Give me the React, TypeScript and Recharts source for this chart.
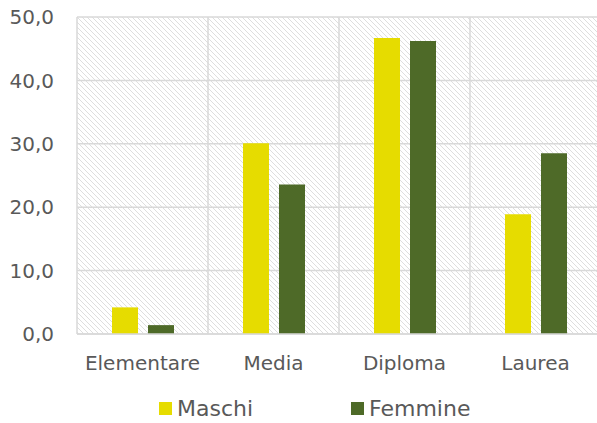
import { BarChart, Bar, XAxis, YAxis, CartesianGrid, Legend } from "recharts";

const categories = ["Elementare", "Media", "Diploma", "Laurea"];
const seriesNames = ["Maschi", "Femmine"];
const maschi = [4.2, 30.1, 46.7, 18.9];
const femmine = [1.4, 23.6, 46.2, 28.5];
const yTicks = [0, 10, 20, 30, 40, 50];

const data = categories.map((c, i) => ({ name: c, Maschi: maschi[i], Femmine: femmine[i] }));

const FONT = "'DejaVu Sans', sans-serif";
const TEXT = "#595959";
const GRID = "#d9d9d9";

function LegendBox({ payload }: any) {
  const items = [...(payload || [])].sort(
    (a: any, b: any) => seriesNames.indexOf(a.value) - seriesNames.indexOf(b.value)
  );
  return (
    <div style={{ display: "flex", paddingLeft: 159, height: 30, alignItems: "center", fontFamily: FONT }}>
      {items.map((p: any) => (
        <div key={p.value} style={{ width: 192, display: "flex", alignItems: "center" }}>
          <span style={{ width: 13, height: 13, background: p.color, marginRight: 5, display: "inline-block" }} />
          <span style={{ fontSize: 22, color: TEXT }}>{p.value}</span>
        </div>
      ))}
    </div>
  );
}

export default function App() {
  return (
    <div style={{ position: "fixed", top: 0, left: 0, width: 597, height: 423, overflow: "hidden", background: "#fff" }}>
      <svg width="0" height="0" style={{ position: "absolute" }}>
        <defs>
          <pattern id="hatch" patternUnits="userSpaceOnUse" width="5" height="5">
            <rect width="5" height="5" fill="#ffffff" />
            <path d="M-1,-1 L6,6 M-1,4 L1,6 M4,-1 L6,1" stroke="#dedede" strokeWidth="1" />
          </pattern>
        </defs>
      </svg>
      <BarChart
        width={610}
        height={423}
        data={data}
        margin={{ top: 17, right: 9, bottom: 0, left: 0 }}
        barSize={26}
        barGap={10}
      >
        <CartesianGrid
          fill="url(#hatch)"
          stroke={GRID}
          strokeWidth={1.5}
          verticalCoordinatesGenerator={({ offset }: any) =>
            [0, 1, 2, 3, 4].map((i) => offset.left + (i * offset.width) / 4)
          }
        />
        <XAxis
          dataKey="name"
          height={59}
          tickLine={false}
          tickSize={0}
          tickMargin={22}
          axisLine={{ stroke: GRID, strokeWidth: 1.5 }}
          tick={{ fill: TEXT, fontSize: 20, fontFamily: FONT }}
        />
        <YAxis
          width={77}
          domain={[0, 50]}
          ticks={yTicks}
          axisLine={false}
          tickLine={false}
          tickSize={0}
          tickMargin={23}
          tickFormatter={(v: number) => v.toFixed(1).replace(".", ",")}
          tick={{ fill: TEXT, fontSize: 20, fontFamily: FONT }}
        />
        <Legend verticalAlign="bottom" content={<LegendBox />} />
        <Bar dataKey="Maschi" fill="#e6dc00" isAnimationActive={false} />
        <Bar dataKey="Femmine" fill="#4e6a28" isAnimationActive={false} />
      </BarChart>
    </div>
  );
}
